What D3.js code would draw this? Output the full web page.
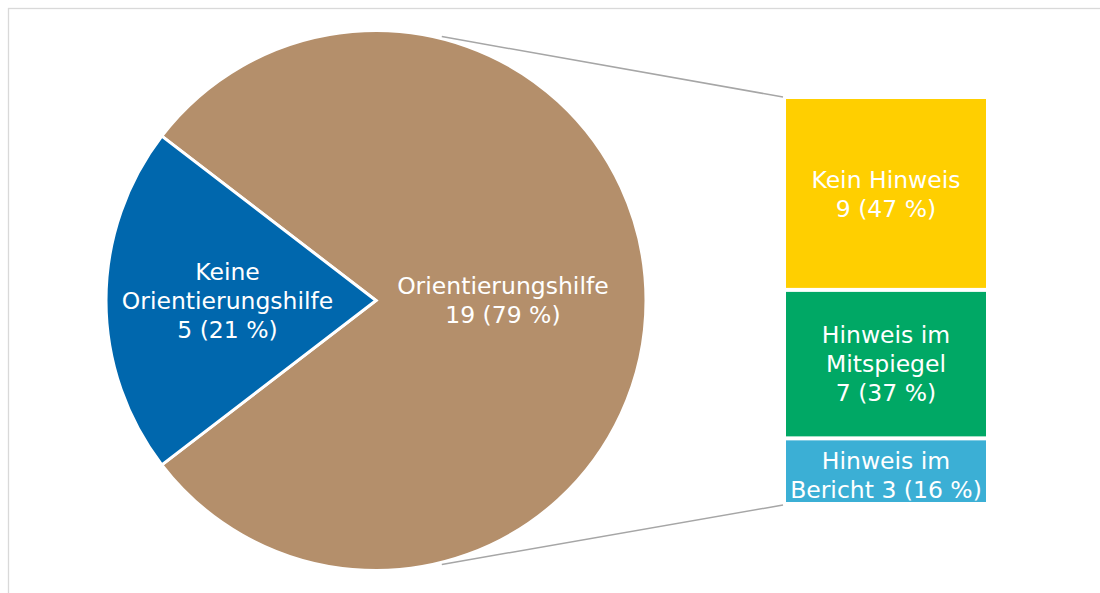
<!DOCTYPE html>
<html>
<head>
<meta charset="utf-8">
<script src="https://cdn.jsdelivr.net/npm/d3@7/dist/d3.min.js"></script>
<style>
  html, body { margin: 0; padding: 0; background: #fff; }
  svg text { font-family: "DejaVu Sans", Verdana, sans-serif; fill: #fff; }
</style>
</head>
<body>
<div id="chart"></div>
<script>
// Pie: main split
var pieNames = ["Orientierungshilfe", "Keine Orientierungshilfe"];
var pieValues = [19, 5];
var pieLabels = [["Orientierungshilfe", "19 (79 %)"], ["Keine", "Orientierungshilfe", "5 (21 %)"]];
var pieColors = ["#b48f6b", "#0067ad"];

// Bar: breakdown of "Orientierungshilfe"
var barNames = ["Kein Hinweis", "Hinweis im Mitspiegel", "Hinweis im Bericht"];
var barValues = [9, 7, 3];
var barLabels = [["Kein Hinweis", "9 (47 %)"], ["Hinweis im", "Mitspiegel", "7 (37 %)"], ["Hinweis im", "Bericht 3 (16 %)"]];
var barColors = ["#ffcf00", "#00a865", "#3bafd5"];

var width = 1100, height = 593;
var fontSize = 23.5, lineH = 29;

var svg = d3.select("#chart").append("svg")
    .attr("width", width)
    .attr("height", height);

// chart frame (only top/left visible)
svg.append("rect")
    .attr("x", 8.5).attr("y", 8.5)
    .attr("width", width + 20).attr("height", height + 20)
    .attr("fill", "none")
    .attr("stroke", "#d9d9d9")
    .attr("stroke-width", 1.3);

// --- pie ---
var cx = 376, cy = 300.5, radius = 270;
var total = d3.sum(pieValues);
var otherAngle = pieValues[1] / total * 2 * Math.PI;
var start = 1.5 * Math.PI + otherAngle / 2;

var pie = d3.pie().sort(null)
    .startAngle(start)
    .endAngle(start + 2 * Math.PI);
var arcs = pie(pieValues);

var arc = d3.arc().innerRadius(0).outerRadius(radius);

var gPie = svg.append("g").attr("transform", "translate(" + cx + "," + cy + ")");

gPie.selectAll("path.slice")
    .data(arcs)
    .enter().append("path")
    .attr("class", "slice")
    .attr("d", arc)
    .attr("fill", function (d, i) { return pieColors[i]; })
    .attr("stroke", "#fff")
    .attr("stroke-width", 3)
    .attr("stroke-linejoin", "miter");

// label distance from centre, as fraction of radius
var labelR = [0.47, 0.55];
gPie.selectAll("text.plabel")
    .data(arcs)
    .enter().append("text")
    .attr("class", "plabel")
    .attr("text-anchor", "middle")
    .attr("font-size", fontSize + "px")
    .each(function (d, i) {
        var a = (d.startAngle + d.endAngle) / 2;
        var r = radius * labelR[i];
        var x = Math.sin(a) * r, y = -Math.cos(a) * r;
        var lines = pieLabels[i];
        var y0 = y - (lines.length - 1) * lineH / 2 + 8;
        var t = d3.select(this);
        lines.forEach(function (s, k) {
            t.append("tspan").attr("x", x).attr("y", y0 + k * lineH).text(s);
        });
    });

// --- stacked bar ---
var barX = 786, barW = 200;
var y = d3.scaleLinear().domain([0, d3.sum(barValues)]).range([99, 502]);
var gap = 4;
var stack = [];
var acc = 0;
barValues.forEach(function (v, i) {
    stack.push({ i: i, y0: acc, y1: acc + v });
    acc += v;
});

var gBar = svg.append("g");
gBar.selectAll("rect.seg")
    .data(stack)
    .enter().append("rect")
    .attr("class", "seg")
    .attr("x", barX)
    .attr("width", barW)
    .attr("y", function (d) { return y(d.y0) + (d.i > 0 ? gap / 2 : 0); })
    .attr("height", function (d) {
        var h = y(d.y1) - y(d.y0);
        if (d.i > 0) h -= gap / 2;
        if (d.i < stack.length - 1) h -= gap / 2;
        return h;
    })
    .attr("fill", function (d) { return barColors[d.i]; });

gBar.selectAll("text.blabel")
    .data(stack)
    .enter().append("text")
    .attr("class", "blabel")
    .attr("text-anchor", "middle")
    .attr("font-size", fontSize + "px")
    .each(function (d) {
        var lines = barLabels[d.i];
        var mid = (y(d.y0) + y(d.y1)) / 2;
        // label on the thin last segment spills a little downward
        if (d.i === stack.length - 1) mid += 5;
        var y0 = mid - (lines.length - 1) * lineH / 2 + 8;
        var t = d3.select(this);
        lines.forEach(function (s, k) {
            t.append("tspan").attr("x", barX + barW / 2).attr("y", y0 + k * lineH).text(s);
        });
    });

// --- connector lines from the pie edge to the bar ---
var conAngle = 14 * Math.PI / 180;
var conn = [
    { a: conAngle, bx: barX - 3, by: y(0) - 2 },
    { a: Math.PI - conAngle, bx: barX - 3, by: y(d3.sum(barValues)) + 3 }
];
svg.selectAll("line.conn")
    .data(conn)
    .enter().append("line")
    .attr("class", "conn")
    .attr("x1", function (d) { return cx + Math.sin(d.a) * (radius + 2); })
    .attr("y1", function (d) { return cy - Math.cos(d.a) * (radius + 2); })
    .attr("x2", function (d) { return d.bx; })
    .attr("y2", function (d) { return d.by; })
    .attr("stroke", "#a6a6a6")
    .attr("stroke-width", 1.5);
</script>
</body>
</html>
